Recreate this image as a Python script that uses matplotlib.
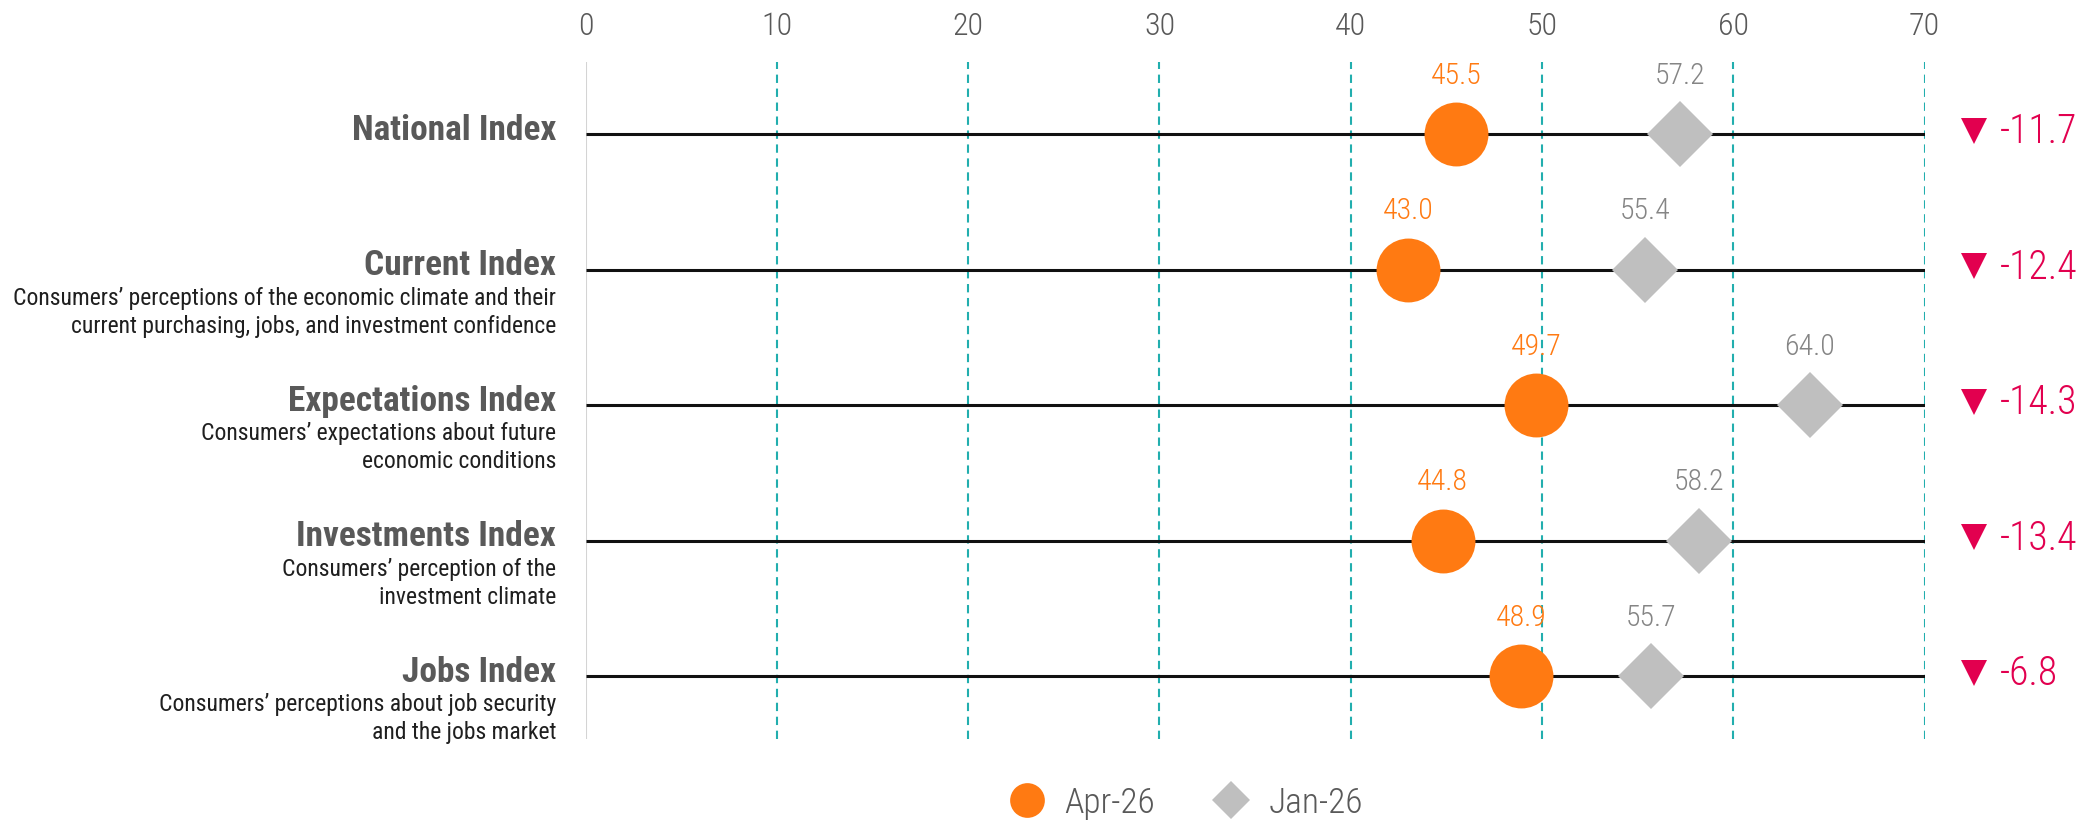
import matplotlib
matplotlib.use("Agg")
import matplotlib.pyplot as plt
from matplotlib import font_manager as fm
from matplotlib.lines import Line2D
from matplotlib.transforms import offset_copy

# ---- data -------------------------------------------------------------
categories = ["National Index", "Current Index", "Expectations Index",
              "Investments Index", "Jobs Index"]
descriptions = [
    "",
    "Consumers’ perceptions of the economic climate and their\n"
    "current purchasing, jobs, and investment confidence",
    "Consumers’ expectations about future\neconomic conditions",
    "Consumers’ perception of the\ninvestment climate",
    "Consumers’ perceptions about job security\nand the jobs market",
]
apr_26 = [45.5, 43.0, 49.7, 44.8, 48.9]
jan_26 = [57.2, 55.4, 64.0, 58.2, 55.7]
x_ticks = [0, 10, 20, 30, 40, 50, 60, 70]
series_labels = ["Apr-26", "Jan-26"]

# ---- style ------------------------------------------------------------
available = {f.name for f in fm.fontManager.ttflist}
FONT = next((n for n in ["Roboto Condensed", "Liberation Sans Narrow",
                         "Open Sans Condensed", "DejaVu Sans"] if n in available),
            "DejaVu Sans")
plt.rcParams["font.family"] = [FONT, "DejaVu Sans"]

ORANGE = "#FF7A12"
GRAY_MARK = "#BFBFBF"
GRAY_TEXT = "#858585"
DARK_TEXT = "#595959"
CRIMSON = "#E2004F"
TEAL = "#22AEAE"
NUM_WEIGHT = "light"

fig = plt.figure(figsize=(20.87, 8.22), dpi=100)
ax = fig.add_axes([0.2806, 0.101, 0.6416, 0.8236])

rows = list(range(len(categories)))
ax.set_xlim(0, 70)
ax.set_ylim(4.465, -0.535)

# guide lines
ax.axvline(0, color="#D4D4D4", lw=1.5, zorder=1)
for t in x_ticks[1:]:
    ax.axvline(t, color=TEAL, lw=1.5, ls=(0, (4, 2.7)), zorder=1)
for r in rows:
    ax.plot([0, 70], [r, r], color="#111111", lw=2.2, zorder=2,
            solid_capstyle="butt")

# dumbbell markers
ax.plot(jan_26, rows, ls="none", marker="D", ms=33.5, color=GRAY_MARK,
        mew=0, zorder=3)
ax.plot(apr_26, rows, ls="none", marker="o", ms=46, color=ORANGE,
        mew=0, zorder=4)

for r, a, j in zip(rows, apr_26, jan_26):
    ax.annotate(f"{a:.1f}", (a, r), xytext=(0, 42), textcoords="offset points",
                ha="center", va="center", fontsize=21.5, color=ORANGE,
                fontweight=NUM_WEIGHT)
    ax.annotate(f"{j:.1f}", (j, r), xytext=(0, 42), textcoords="offset points",
                ha="center", va="center", fontsize=21.5, color=GRAY_TEXT,
                fontweight=NUM_WEIGHT)
    ax.annotate(f"{a - j:.1f}", (73.95, r), xytext=(0, -6.5),
                textcoords="offset points", ha="left", va="baseline",
                fontsize=28.5, color=CRIMSON, fontweight=NUM_WEIGHT,
                annotation_clip=False)

# change indicator triangles
tri_tr = offset_copy(ax.transData, fig=fig, y=3.5, units="dots")
ax.plot([72.6] * len(rows), rows, ls="none", marker="v", ms=19,
        color=CRIMSON, mew=0, clip_on=False, transform=tri_tr)

# category labels and descriptions
ytr = ax.get_yaxis_transform()
for r, name, desc in zip(rows, categories, descriptions):
    ax.annotate(name, (0, r), xycoords=ytr, xytext=(-21.3, -4),
                textcoords="offset points", ha="right", va="baseline",
                fontsize=25.5, fontweight="bold", color=DARK_TEXT,
                annotation_clip=False)
    if desc:
        for k, line in enumerate(desc.split("\n")):
            ax.annotate(line, (0, r), xycoords=ytr,
                        xytext=(-21.3, -25.2 - 20.2 * k),
                        textcoords="offset points", ha="right", va="baseline",
                        fontsize=17, color="#1F1F1F", annotation_clip=False)

# axes
ax.set_xticks(x_ticks)
ax.xaxis.tick_top()
ax.tick_params(axis="x", length=0, pad=15, labelsize=23, labelcolor=DARK_TEXT)
for lbl in ax.get_xticklabels():
    lbl.set_fontweight(NUM_WEIGHT)
ax.set_yticks([])
for s in ax.spines.values():
    s.set_visible(False)

# legend
handles = [
    Line2D([], [], ls="none", marker="o", ms=25, color=ORANGE, mew=0),
    Line2D([], [], ls="none", marker="D", ms=19, color=GRAY_MARK, mew=0),
]
leg = fig.legend(handles, series_labels, loc="center",
                 bbox_to_anchor=(0.568, 1 - 803 / 822), ncol=2, frameon=False,
                 fontsize=25.5, handlelength=1.1, handletextpad=0.5,
                 columnspacing=1.6, labelcolor=DARK_TEXT)
for txt in leg.get_texts():
    txt.set_fontweight(NUM_WEIGHT)

fig.savefig("out.png", dpi=100)
